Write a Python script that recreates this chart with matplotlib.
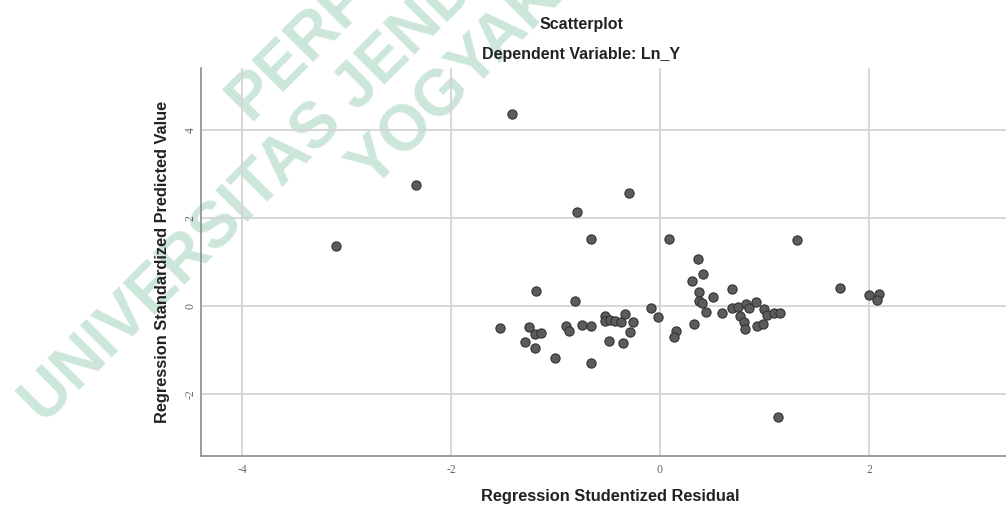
import matplotlib

matplotlib.use("Agg")

import matplotlib.pyplot as plt
from matplotlib.ticker import FixedLocator, FuncFormatter

# Regression Studentized Residual (x) vs Regression Standardized Predicted Value (y)
residual = [
    -3.10, -2.33, -1.42, -0.30, -0.79, -0.66, 0.09, 1.31,
    0.36, 0.41, 0.31, 0.69, 0.37, 0.51, 0.37, 0.40,
    0.44, 0.59, 0.69, 0.75, 0.82, 0.85, 0.92, 0.77,
    0.80, 0.81, 0.93, 0.99, 1.00, 1.02, 1.09, 1.15,
    0.33, 1.13, 1.72, 2.00, 2.10, 2.08, -0.09, -0.02,
    0.15, 0.13, -0.53, -0.53, -0.48, -0.43, -0.37, -0.33,
    -0.26, -0.29, -0.49, -0.35, -1.19, -0.81, -1.53, -1.25,
    -1.20, -1.14, -1.29, -1.20, -1.00, -0.90, -0.87, -0.75,
    -0.66, -0.66,
]
predicted = [
    1.36, 2.75, 4.36, 2.57, 2.14, 1.52, 1.52, 1.49,
    1.07, 0.73, 0.56, 0.39, 0.31, 0.21, 0.12, 0.06,
    -0.13, -0.16, -0.04, -0.02, 0.04, -0.05, 0.08, -0.22,
    -0.37, -0.52, -0.45, -0.40, -0.07, -0.20, -0.17, -0.17,
    -0.41, -2.52, 0.40, 0.24, 0.27, 0.13, -0.04, -0.24,
    -0.57, -0.70, -0.22, -0.33, -0.32, -0.33, -0.37, -0.18,
    -0.37, -0.58, -0.79, -0.85, 0.35, 0.12, -0.51, -0.47,
    -0.64, -0.62, -0.81, -0.95, -1.19, -0.45, -0.57, -0.43,
    -0.45, -1.30,
]
x_ticks = [-4, -2, 0, 2]
y_ticks = [-2, 0, 2, 4]

title = "Scatterplot"
subtitle = "Dependent Variable: Ln_Y"
x_label = "Regression Studentized Residual"
y_label = "Regression Standardized Predicted Value"
watermark = ["PERPUSTAKAAN", "UNIVERSITAS JENDERAL ACHMAD YANI", "YOGYAKARTA"]

W, H = 1006, 508
fig = plt.figure(figsize=(W / 100, H / 100), dpi=100)
fig.patch.set_facecolor("white")


def px(x, y):
    return x / W, 1 - y / H


# watermark behind the chart
wm_anchor = [(250, 122), (45, 426), (373, 190)]
for text, (ax_x, ax_y) in zip(watermark, wm_anchor):
    fx, fy = px(ax_x, ax_y)
    fig.text(fx, fy, text, rotation=45, rotation_mode="anchor", ha="left",
             va="baseline", fontsize=46, fontweight="bold", color="#cce7da",
             family="Liberation Sans", zorder=-5)

left, right = px(201, 0)[0], 1.0
bottom, top = px(0, 456)[1], px(0, 68)[1]
ax = fig.add_axes([left, bottom, right - left, top - bottom])
ax.patch.set_alpha(0)

ax.scatter(residual, predicted, s=44, facecolor="#5c5c5c", edgecolor="#333333",
           linewidth=0.8, zorder=3)

ax.set_xlim(-4.392, 3.311)
ax.set_ylim(-3.409, 5.409)
ax.xaxis.set_major_locator(FixedLocator(x_ticks))
ax.yaxis.set_major_locator(FixedLocator(y_ticks))
fmt = FuncFormatter(lambda v, _: f"{v:.0f}".replace("\u2212", "-"))
ax.xaxis.set_major_formatter(fmt)
ax.yaxis.set_major_formatter(fmt)
ax.grid(True, color="#d4d4d4", linewidth=1.3)
ax.set_axisbelow(True)
ax.tick_params(length=0, labelsize=8.5, labelcolor="#666666", pad=6)
ax.tick_params(axis="y", pad=3)
for lab in ax.get_xticklabels() + ax.get_yticklabels():
    lab.set_family("Liberation Serif")
for lab in ax.get_yticklabels():
    lab.set_rotation(90)
    lab.set_va("center")

for side in ("top", "right"):
    ax.spines[side].set_visible(False)
for side in ("left", "bottom"):
    ax.spines[side].set_color("#8c8c8c")
    ax.spines[side].set_linewidth(1.2)

font = dict(family="Liberation Sans", fontweight="bold", color="#222222",
            ha="center", va="center")
fig.text(*px(581, 24), title, fontsize=11.5, **font)
fig.text(*px(581, 54), subtitle, fontsize=11.5, **font)
fig.text(*px(610, 497), x_label, fontsize=11.8, **font)
fig.text(*px(163, 262), y_label, fontsize=11.8, rotation=90, **font)

fig.savefig("out.png", dpi=100)
